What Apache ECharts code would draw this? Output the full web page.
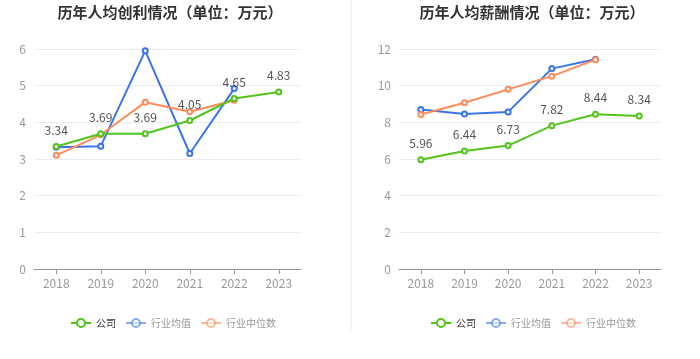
<!DOCTYPE html>
<html><head><meta charset="utf-8">
<script src="https://cdn.jsdelivr.net/npm/echarts@6/dist/echarts.min.js"></script>
<style>html,body{margin:0;padding:0;background:#fff}#c{width:700px;height:359px}</style>
</head><body><div id="c"></div>
<script>
const years = ['2018','2019','2020','2021','2022','2023'];
const profitCompany = [3.34, 3.69, 3.69, 4.05, 4.65, 4.83];
const profitIndAvg = [3.32, 3.35, 5.95, 3.15, 4.92, null];
const profitIndMed = [3.10, 3.66, 4.55, 4.29, 4.60, null];
const salaryCompany = [5.96, 6.44, 6.73, 7.82, 8.44, 8.34];
const salaryIndAvg = [8.70, 8.45, 8.57, 10.93, 11.44, null];
const salaryIndMed = [8.43, 9.07, 9.80, 10.52, 11.42, null];
const titles = ['历年人均创利情况（单位：万元）', '历年人均薪酬情况（单位：万元）'];
const names = ['公司', '行业均值', '行业中位数'];
const colors = ['#52c41a', '#3a74e8', '#ff8b5a'];

const chart = echarts.init(document.getElementById('c'));
const font = '"Noto Sans CJK SC", "Noto Sans", sans-serif';
function mkSeries(name, data, idx, color, label) {
  return {
    name, type: 'line', data, xAxisIndex: idx, yAxisIndex: idx,
    symbol: 'emptyCircle', symbolSize: 5, color,
    lineStyle: { width: 2, color }, itemStyle: { color, borderWidth: 1.5 },
    label: label ? { show: true, position: 'top', distance: 7, color: '#555', fontSize: 12, fontFamily: font } : { show: false },
    z: label ? 3 : 2
  };
}
function legendData() {
  return [
    { name: '公司', textStyle: { color: '#333' } },
    { name: '行业均值', textStyle: { color: '#999' }, itemStyle: { opacity: 0.6 }, lineStyle: { opacity: 0.6 } },
    { name: '行业中位数', textStyle: { color: '#999' }, itemStyle: { opacity: 0.6 }, lineStyle: { opacity: 0.6 } }
  ];
}
const xAx = (gi) => ({
  type: 'category', data: years, gridIndex: gi,
  axisLine: { lineStyle: { color: '#999' } },
  axisTick: { show: true, alignWithLabel: true, lineStyle: { color: '#999' } },
  axisLabel: { color: '#999', fontSize: 12, margin: 8, fontFamily: font }
});
const yAx = (gi, max, interval) => ({
  type: 'value', gridIndex: gi, min: 0, max, interval,
  axisLine: { show: false }, axisTick: { show: false },
  axisLabel: { color: '#999', fontSize: 12, margin: 8, fontFamily: font },
  splitLine: { lineStyle: { color: '#e8ebf3' } }
});
const legendCommon = { top: 313, itemWidth: 20, itemHeight: 10, itemGap: 9, textStyle: { fontSize: 10, fontFamily: font } };
chart.setOption({
  animation: false,
  textStyle: { fontFamily: font },
  title: [
    { text: titles[0], left: 165, textAlign: 'center', top: 0, textStyle: { fontSize: 15, fontWeight: 'bold', color: '#333', fontFamily: font } },
    { text: titles[1], left: 527, textAlign: 'center', top: 0, textStyle: { fontSize: 15, fontWeight: 'bold', color: '#333', fontFamily: font } }
  ],
  legend: [
    Object.assign({ data: legendData(), left: 65 }, legendCommon),
    Object.assign({ data: legendData(), left: 425 }, legendCommon)
  ],
  grid: [
    { left: 34, width: 267, top: 49, bottom: 90 },
    { left: 399, width: 262, top: 49, bottom: 90 }
  ],
  xAxis: [xAx(0), xAx(1)],
  yAxis: [yAx(0, 6, 1), yAx(1, 12, 2)],
  graphic: [{ type: 'line', shape: { x1: 351, y1: 0, x2: 351, y2: 333 }, style: { stroke: '#eeeeee', lineWidth: 1 } }],
  series: [
    mkSeries(names[0], profitCompany, 0, colors[0], true),
    mkSeries(names[1], profitIndAvg, 0, colors[1], false),
    mkSeries(names[2], profitIndMed, 0, colors[2], false),
    mkSeries(names[0], salaryCompany, 1, colors[0], true),
    mkSeries(names[1], salaryIndAvg, 1, colors[1], false),
    mkSeries(names[2], salaryIndMed, 1, colors[2], false)
  ]
});
</script></body></html>
